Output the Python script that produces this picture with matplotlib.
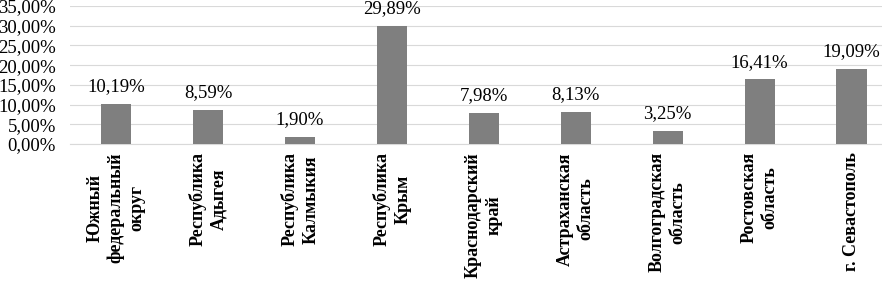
import matplotlib
matplotlib.use("Agg")
import matplotlib.pyplot as plt
from matplotlib.ticker import FuncFormatter

regions = ["Южный\nфедеральный\nокруг", "Республика\nАдыгея", "Республика\nКалмыкия",
           "Республика\nКрым", "Краснодарский\nкрай", "Астраханская\nобласть",
           "Волгоградская\nобласть", "Ростовская\nобласть", "г. Севастополь"]
values = [10.19, 8.59, 1.90, 29.89, 7.98, 8.13, 3.25, 16.41, 19.09]
yticks = [0, 5, 10, 15, 20, 25, 30, 35]

plt.rcParams['font.family'] = ['Liberation Serif', 'DejaVu Serif']

fig = plt.figure(figsize=(8.82, 2.83), dpi=100)
ax = fig.add_axes([70/882, 1 - 144/283, 1 - 70/882, 138/283])

x = list(range(len(values)))
ax.bar(x, values, width=0.33, color='#7f7f7f', zorder=3)
for xi, v in zip(x, values):
    ax.text(xi, v + 2.2, f"{v:.2f}%".replace('.', ','), ha='center', va='bottom', fontsize=13.5)

ax.set_ylim(0, 35)
ax.set_xlim(-0.5, 8.33)
ax.set_yticks(yticks)
ax.yaxis.set_major_formatter(FuncFormatter(lambda v, p: f"{v:.2f}%".replace('.', ',')))
ax.grid(axis='y', color='#d9d9d9', linewidth=0.8, zorder=0)
for s in ['top', 'right', 'left']:
    ax.spines[s].set_visible(False)
ax.spines['bottom'].set_color('#d9d9d9')
ax.tick_params(axis='y', length=0, labelsize=13.5, pad=10)
ax.tick_params(axis='x', length=0, pad=6)
ax.set_xticks(x)
ax.set_xticklabels(regions, rotation=90, fontweight='bold', fontsize=13,
                   ha='center', va='top', multialignment='center', linespacing=1.3)

fig.savefig("out.png", dpi=100)
